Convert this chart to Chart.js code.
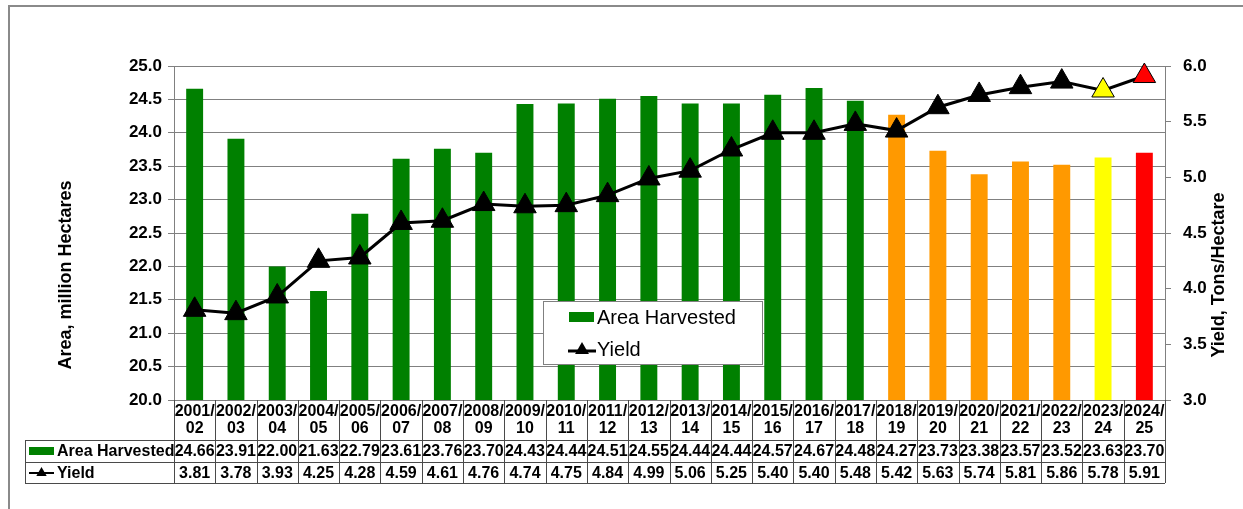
<!DOCTYPE html>
<html>
<head>
<meta charset="utf-8">
<script src="https://cdn.jsdelivr.net/npm/chart.js@4"></script>
<style>
  html, body { margin: 0; padding: 0; background: #fff; }
  #wrap { position: relative; width: 1243px; height: 509px; }
</style>
</head>
<body>
<div id="wrap"><canvas id="chart" width="1243" height="509"></canvas></div>
<script>
const categories = ['2001/02', '2002/03', '2003/04', '2004/05', '2005/06', '2006/07', '2007/08', '2008/09',
  '2009/10', '2010/11', '2011/12', '2012/13', '2013/14', '2014/15', '2015/16', '2016/17', '2017/18',
  '2018/19', '2019/20', '2020/21', '2021/22', '2022/23', '2023/24', '2024/25'];
const areaHarvested = [24.66, 23.91, 22.00, 21.63, 22.79, 23.61, 23.76, 23.70, 24.43, 24.44, 24.51, 24.55,
  24.44, 24.44, 24.57, 24.67, 24.48, 24.27, 23.73, 23.38, 23.57, 23.52, 23.63, 23.70];
const yieldValues = [3.81, 3.78, 3.93, 4.25, 4.28, 4.59, 4.61, 4.76, 4.74, 4.75, 4.84, 4.99,
  5.06, 5.25, 5.40, 5.40, 5.48, 5.42, 5.63, 5.74, 5.81, 5.86, 5.78, 5.91];
const areaTicks = [20, 25];
const yieldTicks = [3, 6];

const GREEN = '#008000', ORANGE = '#FF9900', YELLOW = '#FFFF00', RED = '#FF0000';
// last years: estimates (orange), previous forecast (yellow), current forecast (red)
const barColors = categories.map((c, i) => i < 17 ? GREEN : i < 22 ? ORANGE : i === 22 ? YELLOW : RED);
const pointColors = categories.map((c, i) => i < 22 ? '#000' : i === 22 ? YELLOW : RED);

const FONT = 'Arial, "Liberation Sans", sans-serif';
const GRID = '#808080';

function drawTriangle(ctx, x, y, r, fill) {
  ctx.beginPath();
  ctx.moveTo(x, y - r);
  ctx.lineTo(x + r * 0.866, y + r * 0.5);
  ctx.lineTo(x - r * 0.866, y + r * 0.5);
  ctx.closePath();
  ctx.fillStyle = fill;
  ctx.fill();
}

const extras = {
  id: 'extras',
  afterDraw(chart) {
    const ctx = chart.ctx;
    const xs = chart.scales.x;
    const area = chart.chartArea;
    const n = categories.length;
    const w = (area.right - area.left) / n;
    ctx.save();

    // outer frame
    ctx.strokeStyle = '#8a8a8a';
    ctx.lineWidth = 2;
    ctx.beginPath();
    ctx.moveTo(9, 509); ctx.lineTo(9, 6); ctx.lineTo(1243, 6);
    ctx.stroke();

    // axis titles
    ctx.fillStyle = '#000';
    ctx.font = 'bold 18px ' + FONT;
    ctx.textAlign = 'center';
    ctx.textBaseline = 'middle';
    ctx.save();
    ctx.translate(66, (area.top + area.bottom) / 2 + 42);
    ctx.rotate(-Math.PI / 2);
    ctx.fillText('Area, million Hectares', 0, 0);
    ctx.restore();
    ctx.save();
    ctx.translate(1219, (area.top + area.bottom) / 2 + 42);
    ctx.rotate(-Math.PI / 2);
    ctx.fillText('Yield, Tons/Hectare', 0, 0);
    ctx.restore();

    // data table
    const top = area.bottom, r1 = 440, r2 = 462, r3 = 483, left = 25;
    ctx.strokeStyle = '#4a4a4a';
    ctx.lineWidth = 1;
    ctx.beginPath();
    for (let i = 0; i <= n; i++) {
      const x = Math.round(area.left + i * w) + 0.5;
      ctx.moveTo(x, top); ctx.lineTo(x, r3);
    }
    [r1, r2, r3].forEach(y => { ctx.moveTo(left, y + 0.5); ctx.lineTo(area.right, y + 0.5); });
    ctx.moveTo(left + 0.5, r1); ctx.lineTo(left + 0.5, r3);
    ctx.stroke();

    ctx.fillStyle = '#000';
    ctx.font = 'bold 16px ' + FONT;
    categories.forEach((c, i) => {
      const x = xs.getPixelForValue(i);
      const parts = c.split('/');
      ctx.fillText(parts[0] + '/', x, 412);
      ctx.fillText(parts[1], x, 429);
      ctx.fillText(areaHarvested[i].toFixed(2), x, (r1 + r2) / 2 + 1);
      ctx.fillText(yieldValues[i].toFixed(2), x, (r2 + r3) / 2 + 1);
    });
    ctx.textAlign = 'left';
    ctx.fillText('Area Harvested', 57, (r1 + r2) / 2 + 1);
    ctx.fillText('Yield', 57, (r2 + r3) / 2 + 1);
    ctx.fillStyle = GREEN;
    ctx.fillRect(29, 447, 25, 8);
    ctx.strokeStyle = '#000';
    ctx.lineWidth = 2;
    ctx.beginPath(); ctx.moveTo(29, 473); ctx.lineTo(54, 473); ctx.stroke();
    drawTriangle(ctx, 41.5, 473, 6, '#000');

    // legend box
    ctx.fillStyle = '#fff';
    ctx.fillRect(543, 301, 219, 63);
    ctx.strokeStyle = GRID;
    ctx.lineWidth = 1;
    ctx.strokeRect(543.5, 301.5, 219, 63);
    ctx.fillStyle = GREEN;
    ctx.fillRect(569, 312, 25, 10);
    ctx.strokeStyle = '#000';
    ctx.lineWidth = 3;
    ctx.beginPath(); ctx.moveTo(568, 351); ctx.lineTo(596, 351); ctx.stroke();
    drawTriangle(ctx, 582, 350, 8, '#000');
    ctx.fillStyle = '#000';
    ctx.font = '20px ' + FONT;
    ctx.textAlign = 'left';
    ctx.fillText('Area Harvested', 597, 318);
    ctx.fillText('Yield', 597, 350);

    ctx.restore();
  }
};

new Chart(document.getElementById('chart'), {
  type: 'bar',
  data: {
    labels: categories,
    datasets: [
      {
        type: 'line',
        label: 'Yield',
        data: yieldValues,
        yAxisID: 'y1',
        borderColor: '#000',
        borderWidth: 3,
        pointStyle: 'triangle',
        pointRadius: 13,
        pointBackgroundColor: pointColors,
        pointBorderColor: '#000',
        pointBorderWidth: 1,
        tension: 0,
        clip: false,
        order: 0
      },
      {
        label: 'Area Harvested',
        data: areaHarvested,
        yAxisID: 'y',
        backgroundColor: barColors,
        borderWidth: 0,
        barPercentage: 0.41,
        categoryPercentage: 1,
        order: 1
      }
    ]
  },
  options: {
    responsive: false,
    animation: false,
    layout: { padding: { left: 0, right: 0, top: 66, bottom: 109 } },
    plugins: { legend: { display: false }, tooltip: { enabled: false }, title: { display: false } },
    scales: {
      x: { display: false, offset: true },
      y: {
        position: 'left',
        min: areaTicks[0],
        max: areaTicks[1],
        afterFit(scale) { scale.width = 174; },
        ticks: { stepSize: 0.5, padding: 6, color: '#000', font: { family: FONT, size: 17, weight: 'bold' },
          callback: v => v.toFixed(1) },
        grid: { color: GRID, lineWidth: 1, tickLength: 6 },
        border: { color: GRID, width: 1 }
      },
      y1: {
        position: 'right',
        min: yieldTicks[0],
        max: yieldTicks[1],
        afterFit(scale) { scale.width = 78; },
        ticks: { stepSize: 0.5, padding: 12, color: '#000', font: { family: FONT, size: 17, weight: 'bold' },
          callback: v => v.toFixed(1) },
        grid: { drawOnChartArea: false, color: GRID, tickLength: 6 },
        border: { color: GRID, width: 1 }
      }
    }
  },
  plugins: [extras]
});
</script>
</body>
</html>
